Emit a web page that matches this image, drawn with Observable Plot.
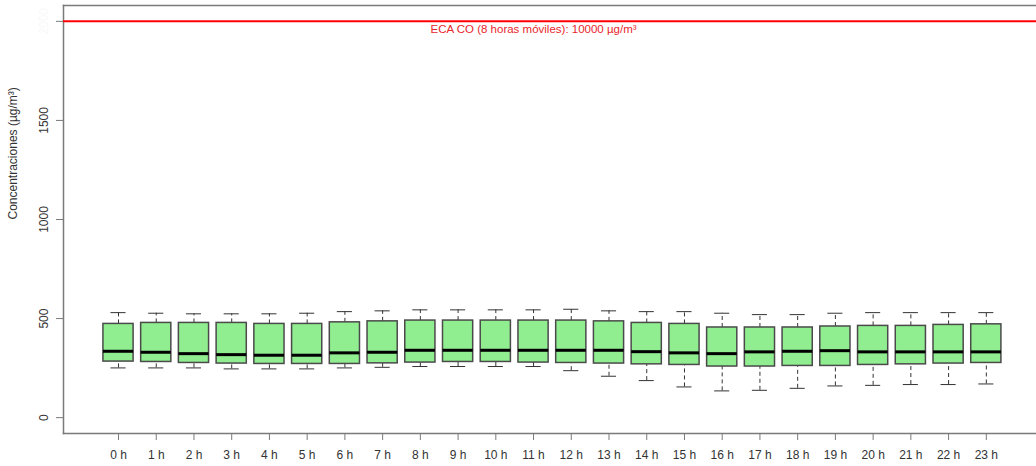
<!DOCTYPE html>
<html><head><meta charset="utf-8">
<script src="https://cdn.jsdelivr.net/npm/d3@7"></script>
<script src="https://cdn.jsdelivr.net/npm/@observablehq/plot@0.6"></script>
<style>
html,body{margin:0;padding:0;background:#fff;overflow:hidden;}
</style></head><body><div id="chart"></div>
<script>
const hours = ["0 h","1 h","2 h","3 h","4 h","5 h","6 h","7 h","8 h","9 h","10 h","11 h","12 h","13 h","14 h","15 h","16 h","17 h","18 h","19 h","20 h","21 h","22 h","23 h"];
const whiskerLow  = [251,251,251,246,246,246,251,254,258,258,258,258,237,209,187,155,135,138,148,160,163,167,167,170];
const q1          = [283,281,276,273,271,271,271,274,278,281,281,278,276,273,269,266,258,258,261,261,266,269,273,276];
const median      = [335,330,323,318,315,315,327,330,340,340,340,340,340,340,333,327,323,332,335,338,332,332,332,332];
const q3          = [473,478,478,478,473,473,481,486,490,490,490,490,490,486,478,473,455,455,455,460,463,463,468,471];
const whiskerHigh = [530,527,524,524,524,527,535,539,544,544,544,544,547,539,535,535,527,520,520,527,530,530,530,530];
const yTicks = [0, 500, 1000, 1500];
const yTopTick = [2000];
const ecaValue = 2000;
const ecaLabelHour = 12;
const ecaLabel = "ECA CO (8 horas móviles): 10000 µg/m³";
const yLabel = "Concentraciones (µg/m³)";

const rows = hours.map((h, i) => ({
  pos: i + 1, hour: h,
  lo: whiskerLow[i], q1: q1[i], median: median[i], q3: q3[i], hi: whiskerHigh[i]
}));

const boxHalf = 0.4, capHalf = 0.2;
const frameColor = "#7a7a7a";

const chart = Plot.plot({
  width: 1036, height: 466,
  marginLeft: 63, marginRight: 0, marginTop: 5, marginBottom: 33,
  x: {type: "linear", domain: [-0.458, 25.33]},
  y: {domain: [-80, 2080]},
  style: {fontFamily: "'Liberation Sans', Arial, sans-serif", fontSize: "12px", background: "#fff"},
  marks: [
    Plot.frame({anchor: "left", stroke: frameColor, strokeWidth: 1.5}),
    Plot.frame({anchor: "top", stroke: frameColor, strokeWidth: 1.5}),
    Plot.frame({anchor: "bottom", stroke: frameColor, strokeWidth: 1.5}),
    Plot.ruleY([ecaValue], {stroke: "#ff0000", strokeWidth: 2}),
    Plot.text([ecaLabel], {x: () => ecaLabelHour, y: () => ecaValue, text: d => d, fill: "#e8262b", lineAnchor: "top", dy: 3, fontSize: 11.5}),
    Plot.ruleX(rows, {x: "pos", y1: "q3", y2: "hi", stroke: "#333", strokeDasharray: "4,3"}),
    Plot.ruleX(rows, {x: "pos", y1: "lo", y2: "q1", stroke: "#333", strokeDasharray: "4,3"}),
    Plot.ruleY(rows, {y: "hi", x1: d => d.pos - capHalf, x2: d => d.pos + capHalf, stroke: "#333"}),
    Plot.ruleY(rows, {y: "lo", x1: d => d.pos - capHalf, x2: d => d.pos + capHalf, stroke: "#333"}),
    Plot.rect(rows, {x1: d => d.pos - boxHalf, x2: d => d.pos + boxHalf, y1: "q1", y2: "q3", fill: "#90ee90", stroke: "#4a4a4a", strokeWidth: 1.5}),
    Plot.ruleY(rows, {y: "median", x1: d => d.pos - boxHalf, x2: d => d.pos + boxHalf, stroke: "#000", strokeWidth: 3}),
    Plot.axisX({ticks: rows.map(d => d.pos), tickFormat: p => hours[p - 1], tickSize: 7, tickPadding: 10, stroke: frameColor, fill: "#333", label: null}),
    Plot.axisY({ticks: yTicks, tickFormat: d => String(d), tickSize: 7, tickRotate: -90, tickPadding: 9, stroke: frameColor, fill: "#333", label: null}),
    Plot.axisY({ticks: yTopTick, tickFormat: d => String(d), tickSize: 7, tickRotate: -90, tickPadding: 9, stroke: frameColor, fill: "#f9f9f9", label: null}),
    Plot.text([yLabel], {frameAnchor: "left", dx: -50, rotate: -90, text: d => d, fill: "#333", fontSize: 12})
  ]
});
document.getElementById("chart").appendChild(chart);
</script>
</body></html>
